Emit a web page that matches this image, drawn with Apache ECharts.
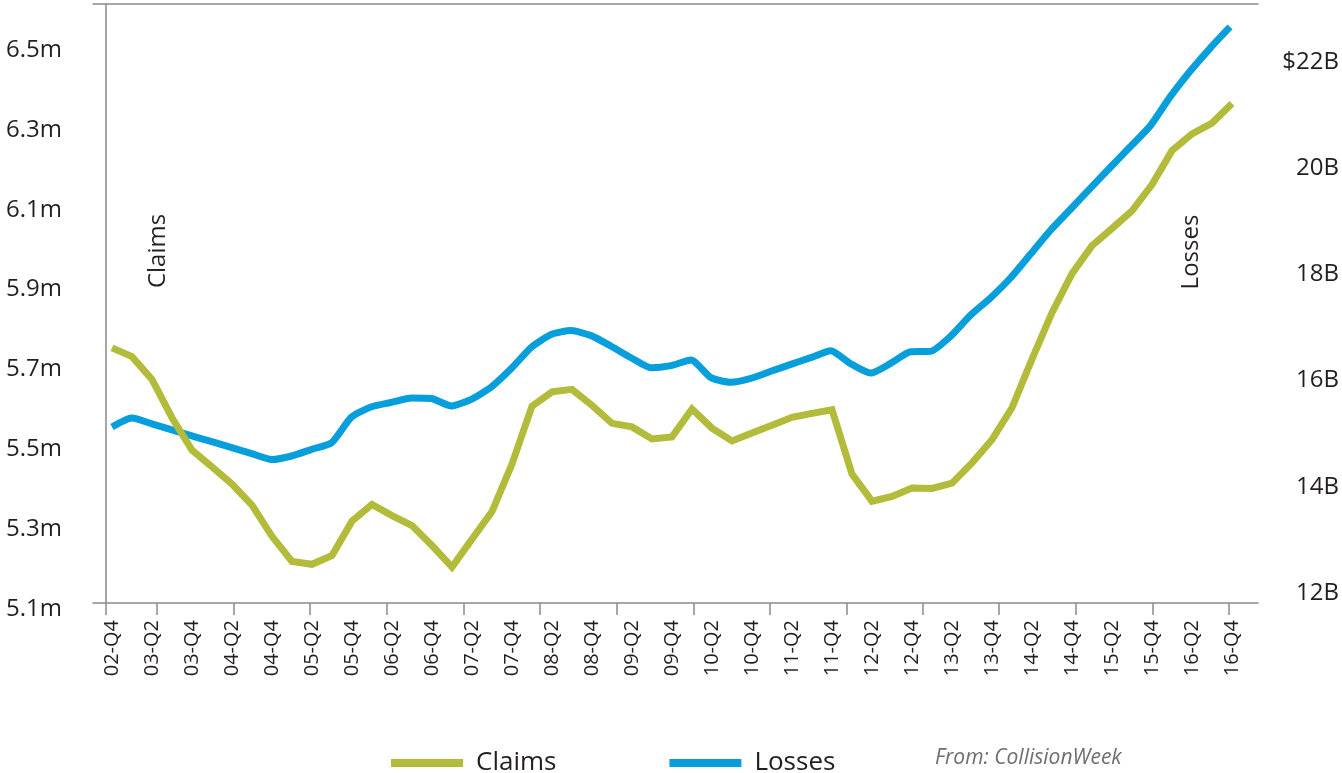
<!DOCTYPE html>
<html>
<head>
<meta charset="utf-8">
<title>Claims vs Losses</title>
<script src="https://cdn.jsdelivr.net/npm/echarts@6/dist/echarts.min.js"></script>
<style>
  html, body { margin: 0; padding: 0; background: #fff; }
  #chart { width: 1342px; height: 773px; }
</style>
</head>
<body>
<div id="chart"></div>
<script>
// quarters 02-Q4 .. 16-Q4
const quarters = [
  '02-Q4',
  '03-Q1', '03-Q2', '03-Q3', '03-Q4',
  '04-Q1', '04-Q2', '04-Q3', '04-Q4',
  '05-Q1', '05-Q2', '05-Q3', '05-Q4',
  '06-Q1', '06-Q2', '06-Q3', '06-Q4',
  '07-Q1', '07-Q2', '07-Q3', '07-Q4',
  '08-Q1', '08-Q2', '08-Q3', '08-Q4',
  '09-Q1', '09-Q2', '09-Q3', '09-Q4',
  '10-Q1', '10-Q2', '10-Q3', '10-Q4',
  '11-Q1', '11-Q2', '11-Q3', '11-Q4',
  '12-Q1', '12-Q2', '12-Q3', '12-Q4',
  '13-Q1', '13-Q2', '13-Q3', '13-Q4',
  '14-Q1', '14-Q2', '14-Q3', '14-Q4',
  '15-Q1', '15-Q2', '15-Q3', '15-Q4',
  '16-Q1', '16-Q2', '16-Q3', '16-Q4'
]

// claims, millions
const claims = [
  5.754, 5.732, 5.675, 5.579, 5.498, 5.456, 5.413, 5.360, 5.282, 5.219,
  5.212, 5.234, 5.320, 5.362, 5.334, 5.309, 5.259, 5.205, 5.275, 5.344,
  5.463, 5.608, 5.644, 5.650, 5.610, 5.565, 5.556, 5.526, 5.531, 5.601,
  5.553, 5.521, 5.541, 5.560, 5.580, 5.590, 5.599, 5.438, 5.370, 5.382,
  5.403, 5.402, 5.415, 5.466, 5.524, 5.604, 5.726, 5.842, 5.940, 6.010,
  6.053, 6.097, 6.163, 6.248, 6.290, 6.317, 6.366
]

// losses, $ billions
const losses = [
  15.126, 15.296, 15.185, 15.072, 14.960, 14.849, 14.736, 14.625, 14.514, 14.580,
  14.706, 14.830, 15.315, 15.508, 15.591, 15.674, 15.663, 15.522, 15.648, 15.880,
  16.226, 16.627, 16.868, 16.943, 16.847, 16.648, 16.431, 16.241, 16.282, 16.388,
  16.055, 15.968, 16.043, 16.175, 16.305, 16.433, 16.563, 16.318, 16.141, 16.324,
  16.542, 16.550, 16.834, 17.230, 17.556, 17.932, 18.379, 18.827, 19.222, 19.620,
  20.013, 20.403, 20.795, 21.343, 21.825, 22.258, 22.660
]

const claimsTicks = [5.1, 5.3, 5.5, 5.7, 5.9, 6.1, 6.3, 6.5]
const lossesTicks = [12, 14, 16, 18, 20, 22]

const font = '"Open Sans", "Noto Sans", sans-serif'
const textColor = '#231f20'
const axisColor = '#8a8a8a'
const green = '#b2bb3a'
const blue = '#069edb'

const hidden = { show: false }

const options = {
  animation: false,
  backgroundColor: '#fff',
  grid: [
    // frame: top line, bottom axis, y axis line
    { left: 93, right: 84, top: 4, bottom: 170 },
    // claims
    { left: 112, right: 110, top: 50, bottom: 164 },
    // losses
    { left: 112, right: 110, top: 62, bottom: 180 }
  ],
  xAxis: [
    {
      gridIndex: 0, type: 'value', min: -13, max: 1152, position: 'bottom',
      axisLine: { onZero: false, lineStyle: { color: axisColor, width: 1.5 } },
      axisTick: {
        length: 12,
        lineStyle: { color: axisColor, width: 1.5 },
        customValues: [0, 51, 128, 204, 281, 358, 434, 511, 588, 664, 741, 817, 893, 970, 1047, 1123]
      },
      axisLabel: hidden,
      splitLine: hidden
    },
    {
      gridIndex: 0, type: 'value', min: -13, max: 1152, position: 'top',
      axisLine: { onZero: false, lineStyle: { color: axisColor, width: 1.5 } },
      axisTick: hidden,
      axisLabel: hidden,
      splitLine: hidden
    },
    {
      gridIndex: 1, type: 'category', data: quarters, boundaryGap: false,
      axisLine: hidden,
      axisTick: hidden,
      axisLabel: {
        interval: 1,
        rotate: 90,
        margin: 11,
        color: textColor,
        fontFamily: font,
        fontSize: 20
      },
      splitLine: hidden
    },
    {
      gridIndex: 2, type: 'category', data: quarters, boundaryGap: false,
      show: false
    }
  ],
  yAxis: [
    {
      gridIndex: 0, type: 'value', min: 0, max: 1,
      axisLine: { show: true, onZero: true, lineStyle: { color: axisColor, width: 1.5 } },
      axisTick: hidden,
      axisLabel: hidden,
      splitLine: hidden
    },
    {
      gridIndex: 1, type: 'value', min: 5.1, max: 6.5,
      axisLine: hidden,
      axisTick: hidden,
      splitLine: hidden,
      axisLabel: {
        customValues: claimsTicks,
        margin: 50,
        color: textColor,
        fontFamily: font,
        fontSize: 24,
        formatter: (v) => v.toFixed(1) + 'm'
      }
    },
    {
      gridIndex: 2, type: 'value', min: 12, max: 22, position: 'right',
      axisLine: hidden,
      axisTick: hidden,
      splitLine: hidden,
      axisLabel: {
        customValues: lossesTicks,
        margin: 109,
        align: 'right',
        color: textColor,
        fontFamily: font,
        fontSize: 24,
        formatter: (v) => (v === 22 ? '$' : '') + v + 'B'
      }
    }
  ],
  legend: {
    data: ['Claims', 'Losses'],
    left: 386,
    top: 745,
    icon: 'rect',
    itemWidth: 72,
    itemHeight: 8,
    itemGap: 113,
    textStyle: {
      color: textColor,
      fontFamily: font,
      fontSize: 26,
      padding: [0, 0, 0, 8]
    }
  },
  graphic: [
    {
      type: 'text', x: 158, y: 251, rotation: Math.PI / 2,
      style: { text: 'Claims', fill: textColor, font: '24px ' + font, align: 'center', verticalAlign: 'middle' }
    },
    {
      type: 'text', x: 1191, y: 252, rotation: Math.PI / 2,
      style: { text: 'Losses', fill: textColor, font: '24px ' + font, align: 'center', verticalAlign: 'middle' }
    },
    {
      type: 'text', x: 935, y: 758,
      style: { text: 'From: CollisionWeek', fill: '#6d6e71', font: 'italic 21px ' + font, align: 'left', verticalAlign: 'middle' }
    }
  ],
  series: [
    {
      name: 'Losses',
      type: 'line',
      xAxisIndex: 3,
      yAxisIndex: 2,
      data: losses,
      smooth: 0.2,
      showSymbol: false,
      clip: false,
      z: 2,
      itemStyle: { color: blue },
      lineStyle: { color: blue, width: 7, join: 'miter' }
    },
    {
      name: 'Claims',
      type: 'line',
      xAxisIndex: 2,
      yAxisIndex: 1,
      data: claims,
      smooth: false,
      showSymbol: false,
      clip: false,
      z: 3,
      itemStyle: { color: green },
      lineStyle: { color: green, width: 7, join: 'miter' }
    }
  ]
}

const chart = echarts.init(document.getElementById('chart'))
chart.setOption(options)
window.addEventListener('resize', () => {
  chart.resize()
})
</script>
</body>
</html>
